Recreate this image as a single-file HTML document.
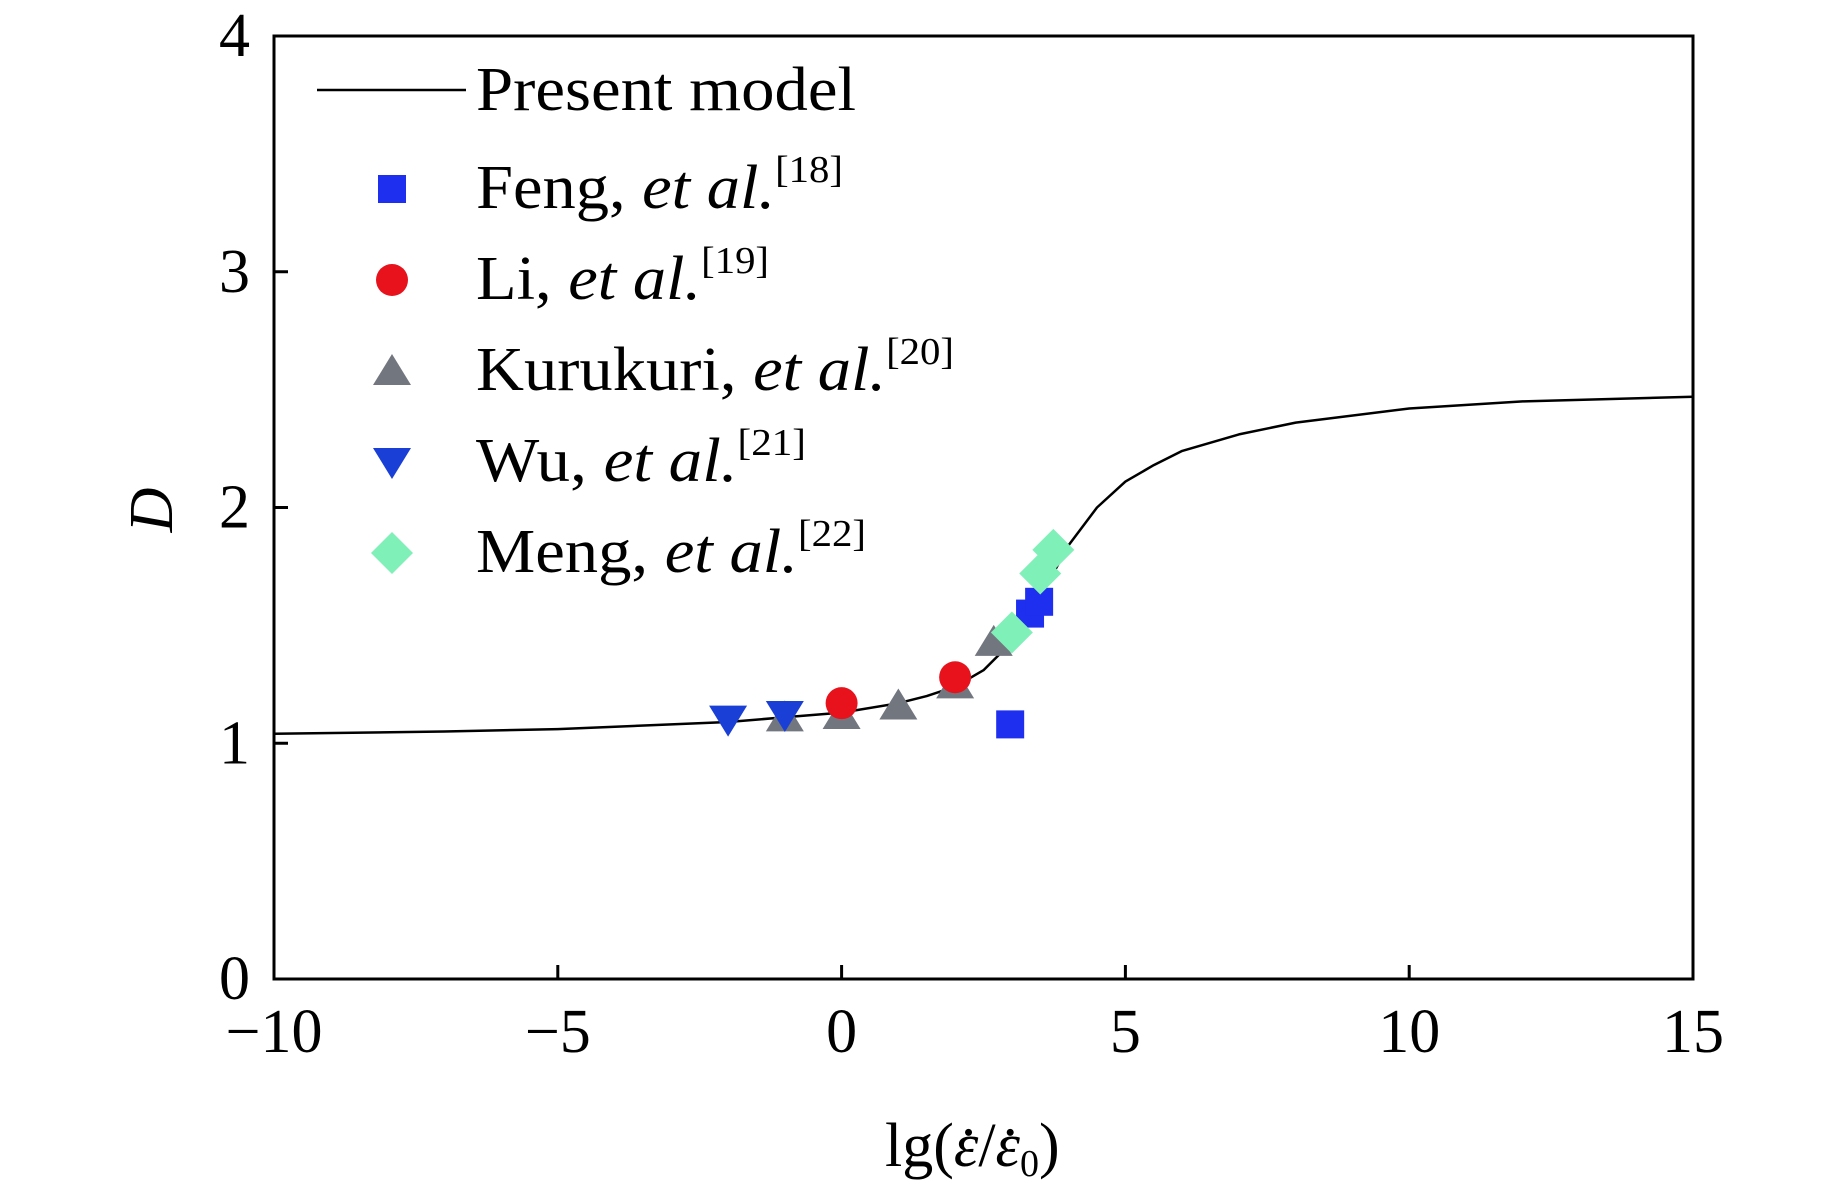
<!DOCTYPE html>
<html><head><meta charset="utf-8"><style>
html,body{margin:0;padding:0;background:#fff;}
svg{display:block;font-family:"Liberation Serif",serif;}
</style></head><body>
<svg id="chart" width="1843" height="1198" viewBox="0 0 1843 1198" xmlns="http://www.w3.org/2000/svg">
</svg>
<script>
const xTicks=[-10,-5,0,5,10,15];
const yTicks=[0,1,2,3,4];
const curveX=[-10,-7,-5,-3,-2,-1,0,1,1.5,2,2.5,3,3.5,4,4.5,5,5.5,6,7,8,10,12,15];
const curveD=[1.04,1.05,1.06,1.08,1.09,1.11,1.13,1.17,1.2,1.24,1.31,1.43,1.62,1.84,2.0,2.11,2.18,2.24,2.31,2.36,2.42,2.45,2.47];
const fengX=[2.97,3.32,3.48];
const fengD=[1.08,1.55,1.6];
const liX=[0,2];
const liD=[1.17,1.28];
const kuruX=[-1,0,1,2,2.68];
const kuruD=[1.11,1.12,1.16,1.25,1.43];
const wuX=[-2,-1];
const wuD=[1.1,1.12];
const mengX=[3.0,3.5,3.73];
const mengD=[1.47,1.72,1.82];

const L=274,R=1693,T=36,B=979;
const sx=v=>L+(v+10)/25*(R-L);
const sy=v=>B-v/4*(B-T);
const NS="http://www.w3.org/2000/svg";
const svg=document.getElementById('chart');
function mk(tag,attrs,parent){const e=document.createElementNS(NS,tag);for(const k in attrs)e.setAttribute(k,attrs[k]);(parent||svg).appendChild(e);return e;}

let fr=mk('rect',{x:L,y:T,width:R-L,height:B-T,fill:'none',stroke:'#000','stroke-width':3});



xTicks.forEach(t=>{
  const tk=mk('line',{x1:sx(t),x2:sx(t),y1:B,y2:B-14,stroke:'#000','stroke-width':3});
  
  
  const lb=mk('text',{x:sx(t),y:1052,'text-anchor':'middle','font-size':62});
  lb.textContent=t<0?'\u2212'+Math.abs(t):String(t);
  
  
});
yTicks.forEach(t=>{
  const tk=mk('line',{x1:L,x2:L+14,y1:sy(t),y2:sy(t),stroke:'#000','stroke-width':3});
  
  
  const lb=mk('text',{x:250,y:sy(t)+20,'text-anchor':'end','font-size':62});
  lb.textContent=String(t);
  
  
});

let d='';
curveX.forEach((x,i)=>{d+=(i?'L':'M')+sx(x).toFixed(1)+','+sy(curveD[i]).toFixed(1);});
const cp=mk('path',{d:d,fill:'none',stroke:'#000','stroke-width':2.5,'stroke-linejoin':'round'});



function marker(type,cx,cy,color,name){
  let e;
  const s=14;
  if(type==='square')e=mk('rect',{x:cx-s,y:cy-s,width:2*s,height:2*s,fill:color});
  else if(type==='circle')e=mk('circle',{cx:cx,cy:cy,r:16,fill:color});
  else if(type==='up')e=mk('polygon',{points:`${cx},${cy-17} ${cx+19},${cy+14} ${cx-19},${cy+14}`,fill:color});
  else if(type==='down')e=mk('polygon',{points:`${cx-19},${cy-14} ${cx+19},${cy-14} ${cx},${cy+17}`,fill:color});
  else e=mk('polygon',{points:`${cx},${cy-21} ${cx+21},${cy} ${cx},${cy+21} ${cx-21},${cy}`,fill:color});
  
  
}
kuruX.forEach((x,i)=>marker('up',sx(x),sy(kuruD[i]),'#72767f','kurukuri-point'));
liX.forEach((x,i)=>marker('circle',sx(x),sy(liD[i]),'#e8121c','li-point'));
wuX.forEach((x,i)=>marker('down',sx(x),sy(wuD[i]),'#1a3fd6','wu-point'));
fengX.forEach((x,i)=>marker('square',sx(x),sy(fengD[i]),'#1f2ff0','feng-point'));
mengX.forEach((x,i)=>marker('diamond',sx(x),sy(mengD[i]),'#7ff0b8','meng-point'));

const lg=mk('line',{x1:317,x2:466,y1:90,y2:90,stroke:'#000','stroke-width':2.5});


const t0=mk('text',{x:476,y:110,'font-size':62,textLength:380,lengthAdjust:'spacingAndGlyphs'});
t0.textContent='Present model';


const leg=[['square','#1f2ff0','Feng, ','[18]',367],['circle','#e8121c','Li, ','[19]',293],['up','#72767f','Kurukuri, ','[20]',478],['down','#1a3fd6','Wu, ','[21]',330],['diamond','#7ff0b8','Meng, ','[22]',390]];
leg.forEach((l,i)=>{
  const y=189+i*91;
  marker(l[0],392,y,l[1],'legend-marker');
  const tx=mk('text',{x:476,y:y+19,'font-size':62,textLength:l[4],lengthAdjust:'spacingAndGlyphs'});
  tx.innerHTML=l[2]+'<tspan font-style="italic">et al.</tspan><tspan font-size="38" dy="-26">'+l[3]+'</tspan>';
  
  
});

const yl=mk('text',{x:0,y:0,'font-size':62,'font-style':'italic','text-anchor':'middle',transform:'translate(172,510) rotate(-90)'});
yl.textContent='D';


const xl=mk('text',{x:885,y:1166,'font-size':62});
xl.innerHTML='lg(<tspan font-style="italic">\u03B5</tspan>/<tspan font-style="italic">\u03B5</tspan><tspan font-size="38" dy="10">0</tspan><tspan dy="-10">)</tspan>';


// dots over epsilons
setTimeout(()=>{},0);
const bb=xl.getBBox();
const n=xl.getNumberOfChars();
const dots=[3,5];
dots.forEach(ci=>{
  const ext=xl.getExtentOfChar(ci);
  const dt=mk('circle',{cx:ext.x+ext.width*0.6,cy:ext.y+ext.height*0.3,r:3.5,fill:'#000'});
  
  
});
</script>
</body></html>
